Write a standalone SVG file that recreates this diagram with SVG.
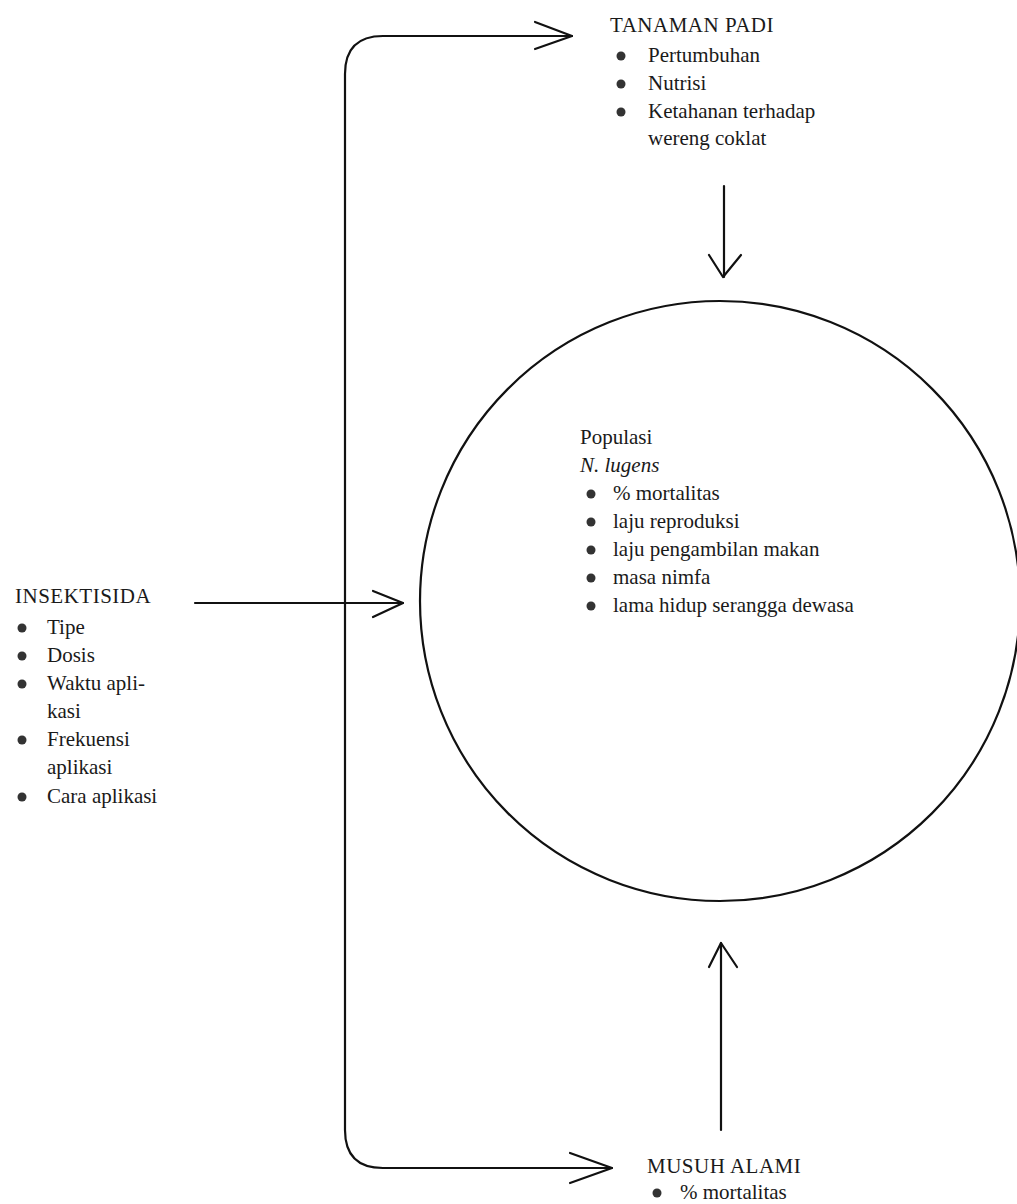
<svg xmlns="http://www.w3.org/2000/svg" width="1017" height="1204" viewBox="0 0 1017 1204">
<style>
text{font-family:"Liberation Serif","Times New Roman",serif;font-size:21px;fill:#1a1a1a}
.ln{fill:none;stroke:#111;stroke-width:2.2;stroke-linecap:round;stroke-linejoin:round}
.bl{fill:#333}
</style>
<rect width="1017" height="1204" fill="#fff"/>
<g id="connectors">
<path class="ln" d="M572 36 H383 Q345 36 345 74 V1130 Q345 1168 383 1168 H612"/>
<path class="ln" d="M535 22 L572 36 L535 49"/>
<path class="ln" d="M570 1153 L612 1168 L570 1183"/>
<path class="ln" d="M195 603 H403"/>
<path class="ln" d="M373 591 L403 603 L373 617"/>
<path class="ln" d="M724 186 V277"/>
<path class="ln" d="M709 255 L723 277 L741 255"/>
<path class="ln" d="M721 1130 V943"/>
<path class="ln" d="M709 967 L721 943 L737 967"/>
</g>
<g id="populasi">
<circle cx="720" cy="601" r="300" fill="none" stroke="#111" stroke-width="2.2"/>
<text x="580" y="444">Populasi</text>
<text x="580" y="472" font-style="italic">N. lugens</text>
<circle class="bl" cx="591" cy="494" r="4.5"/><text x="613" y="500">% mortalitas</text>
<circle class="bl" cx="591" cy="522" r="4.5"/><text x="613" y="528">laju reproduksi</text>
<circle class="bl" cx="591" cy="550" r="4.5"/><text x="613" y="556">laju pengambilan makan</text>
<circle class="bl" cx="591" cy="578" r="4.5"/><text x="613" y="584">masa nimfa</text>
<circle class="bl" cx="591" cy="606" r="4.5"/><text x="613" y="612">lama hidup serangga dewasa</text>
</g>
<g id="tanaman-padi">
<text x="610" y="32" letter-spacing="0.5">TANAMAN PADI</text>
<circle class="bl" cx="621" cy="56" r="4.5"/><text x="648" y="62">Pertumbuhan</text>
<circle class="bl" cx="621" cy="84" r="4.5"/><text x="648" y="90">Nutrisi</text>
<circle class="bl" cx="621" cy="112" r="4.5"/><text x="648" y="118">Ketahanan terhadap</text>
<text x="648" y="145">wereng coklat</text>
</g>
<g id="insektisida">
<text x="15" y="603" letter-spacing="0.5">INSEKTISIDA</text>
<circle class="bl" cx="22" cy="628" r="4.5"/><text x="47" y="634">Tipe</text>
<circle class="bl" cx="22" cy="656" r="4.5"/><text x="47" y="662">Dosis</text>
<circle class="bl" cx="22" cy="684" r="4.5"/><text x="47" y="690">Waktu apli-</text>
<text x="47" y="718">kasi</text>
<circle class="bl" cx="22" cy="740" r="4.5"/><text x="47" y="746">Frekuensi</text>
<text x="47" y="774">aplikasi</text>
<circle class="bl" cx="22" cy="797" r="4.5"/><text x="47" y="803">Cara aplikasi</text>
</g>
<g id="musuh-alami">
<text x="647" y="1173" letter-spacing="0.5">MUSUH ALAMI</text>
<circle class="bl" cx="657" cy="1193" r="4.5"/><text x="680" y="1199">% mortalitas</text>
</g>
</svg>
